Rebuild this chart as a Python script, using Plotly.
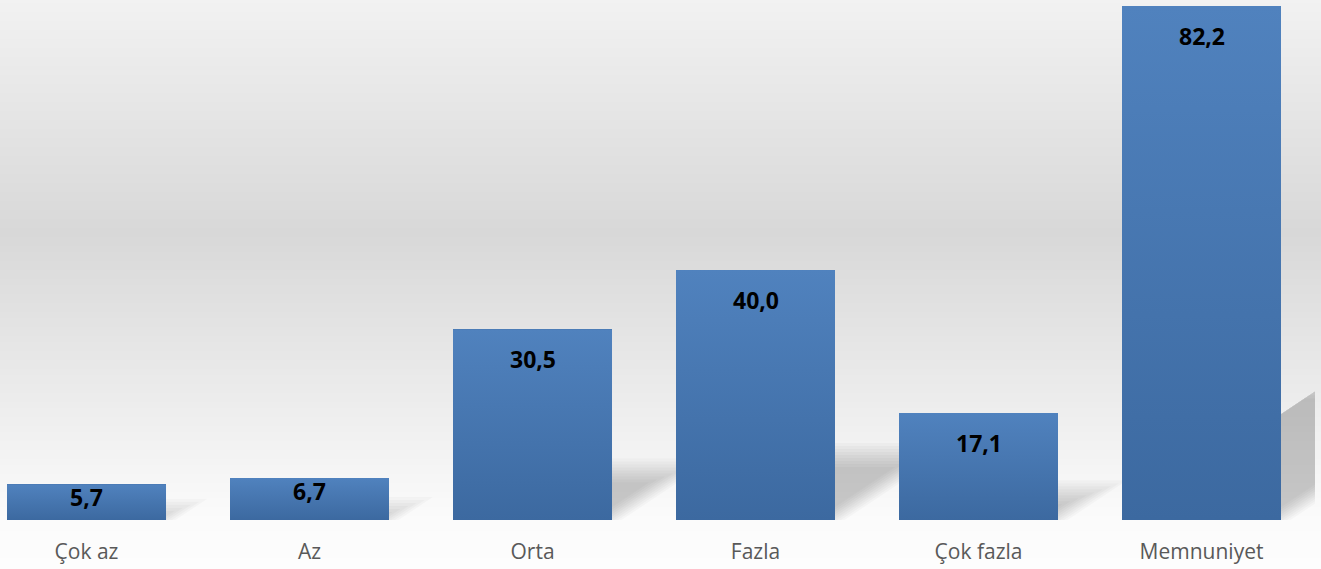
import plotly.graph_objects as go

# ---------------- data ----------------
categories = ["Çok az", "Az", "Orta", "Fazla", "Çok fazla", "Memnuniyet"]
values = [5.7, 6.7, 30.5, 40.0, 17.1, 82.2]

# ---------------- styling constants ----------------
W, H = 1321, 569
M_L, M_R, M_T, M_B = 0, 6, 0, 49
PLOT_W = W - M_L - M_R
PLOT_H = H - M_T - M_B
X_RANGE = [-0.388, 5.509]
Y_RANGE = [0, 83.16]
BAR_W = 0.713
BAR_TOP = "rgb(80,130,190)"
BAR_BOT = "rgb(60,105,160)"

x_per_px = (X_RANGE[1] - X_RANGE[0]) / PLOT_W
y_per_px = (Y_RANGE[1] - Y_RANGE[0]) / PLOT_H

xs = list(range(len(categories)))
labels = [f"{v:.1f}".replace(".", ",") for v in values]

fig = go.Figure()

# base bars (data marks)
fig.add_trace(go.Bar(
    x=xs, y=values, width=BAR_W,
    marker=dict(color=BAR_BOT, line=dict(width=0)),
    hoverinfo="skip", showlegend=False,
))

# gradient overlay on each bar
for i, v in zip(xs, values):
    fig.add_trace(go.Scatter(
        x=[i - BAR_W / 2, i + BAR_W / 2, i + BAR_W / 2, i - BAR_W / 2, i - BAR_W / 2],
        y=[0, 0, v, v, 0],
        mode="none", fill="toself",
        fillgradient=dict(type="vertical",
                          colorscale=[[0, BAR_BOT], [1, BAR_TOP]]),
        hoverinfo="skip", showlegend=False,
    ))

shapes = []

# background vertical gradient (paper coords, extends under labels)
bg_stops = [(0, 242), (233, 216), (470, 245), (520, 251), (569, 253)]


def bg_gray(py):
    for (p0, c0), (p1, c1) in zip(bg_stops[:-1], bg_stops[1:]):
        if p0 <= py <= p1:
            t = (py - p0) / (p1 - p0)
            return round(c0 + (c1 - c0) * t)
    return bg_stops[-1][1]


step = 3
for py in range(0, H, step):
    g = bg_gray(py + step / 2)
    y1 = (PLOT_H - py) / PLOT_H
    shapes.append(dict(
        type="rect", xref="paper", yref="paper",
        x0=-0.01, x1=1.01, y0=(PLOT_H - (py + step + 0.5)) / PLOT_H, y1=y1,
        fillcolor=f"rgb({g},{g},{g})", line=dict(width=0), layer="below",
    ))

# blurred perspective shadows to the right of each bar
SKEW = 1.5
for i, v in zip(xs, values):
    h_px = v / y_per_px
    sh_base = 0.26 * h_px
    xl = i - BAR_W / 2
    xr = i + BAR_W / 2
    for d in range(-12, 13, 3):
        sh = sh_base - d
        if sh <= 1:
            continue
        x2 = xr - (d + 4) * 1.2 * x_per_px
        x3 = x2 + SKEW * sh * x_per_px
        x4 = xl + SKEW * sh * x_per_px
        ytop = sh * y_per_px
        path = (f"M {xl},0 L {x2},0 L {x3},{ytop} L {x4},{ytop} Z")
        shapes.append(dict(
            type="path", xref="x", yref="y", path=path,
            fillcolor="rgba(0,0,0,0.025)", line=dict(width=0), layer="below",
        ))

# value labels inside bars
annotations = []
for i, v, lab in zip(xs, values, labels):
    h_px = v / y_per_px
    off = 30 if h_px >= 70 else 13
    annotations.append(dict(
        x=i, y=v, xref="x", yref="y", text=f"<b>{lab}</b>",
        showarrow=False, yanchor="middle", xanchor="center", yshift=-off,
        font=dict(family="Open Sans", size=23, color="#000000"),
    ))

fig.update_layout(
    width=W, height=H,
    margin=dict(l=M_L, r=M_R, t=M_T, b=M_B, pad=0),
    paper_bgcolor="rgb(253,253,253)",
    plot_bgcolor="rgba(0,0,0,0)",
    shapes=shapes,
    annotations=annotations,
    showlegend=False,
    bargap=0,
    xaxis=dict(
        range=X_RANGE, tickvals=xs, ticktext=categories,
        showgrid=False, zeroline=False, showline=False,
        ticks="outside", ticklen=13, tickcolor="rgba(0,0,0,0)",
        tickfont=dict(family="Open Sans", size=21, color="#595959"),
        fixedrange=True,
    ),
    yaxis=dict(range=Y_RANGE, visible=False, fixedrange=True),
)

fig.write_html(
    "out.html",
    config={"displayModeBar": False},
    post_script="document.body.style.margin='0px';document.body.style.overflow='hidden';",
)
